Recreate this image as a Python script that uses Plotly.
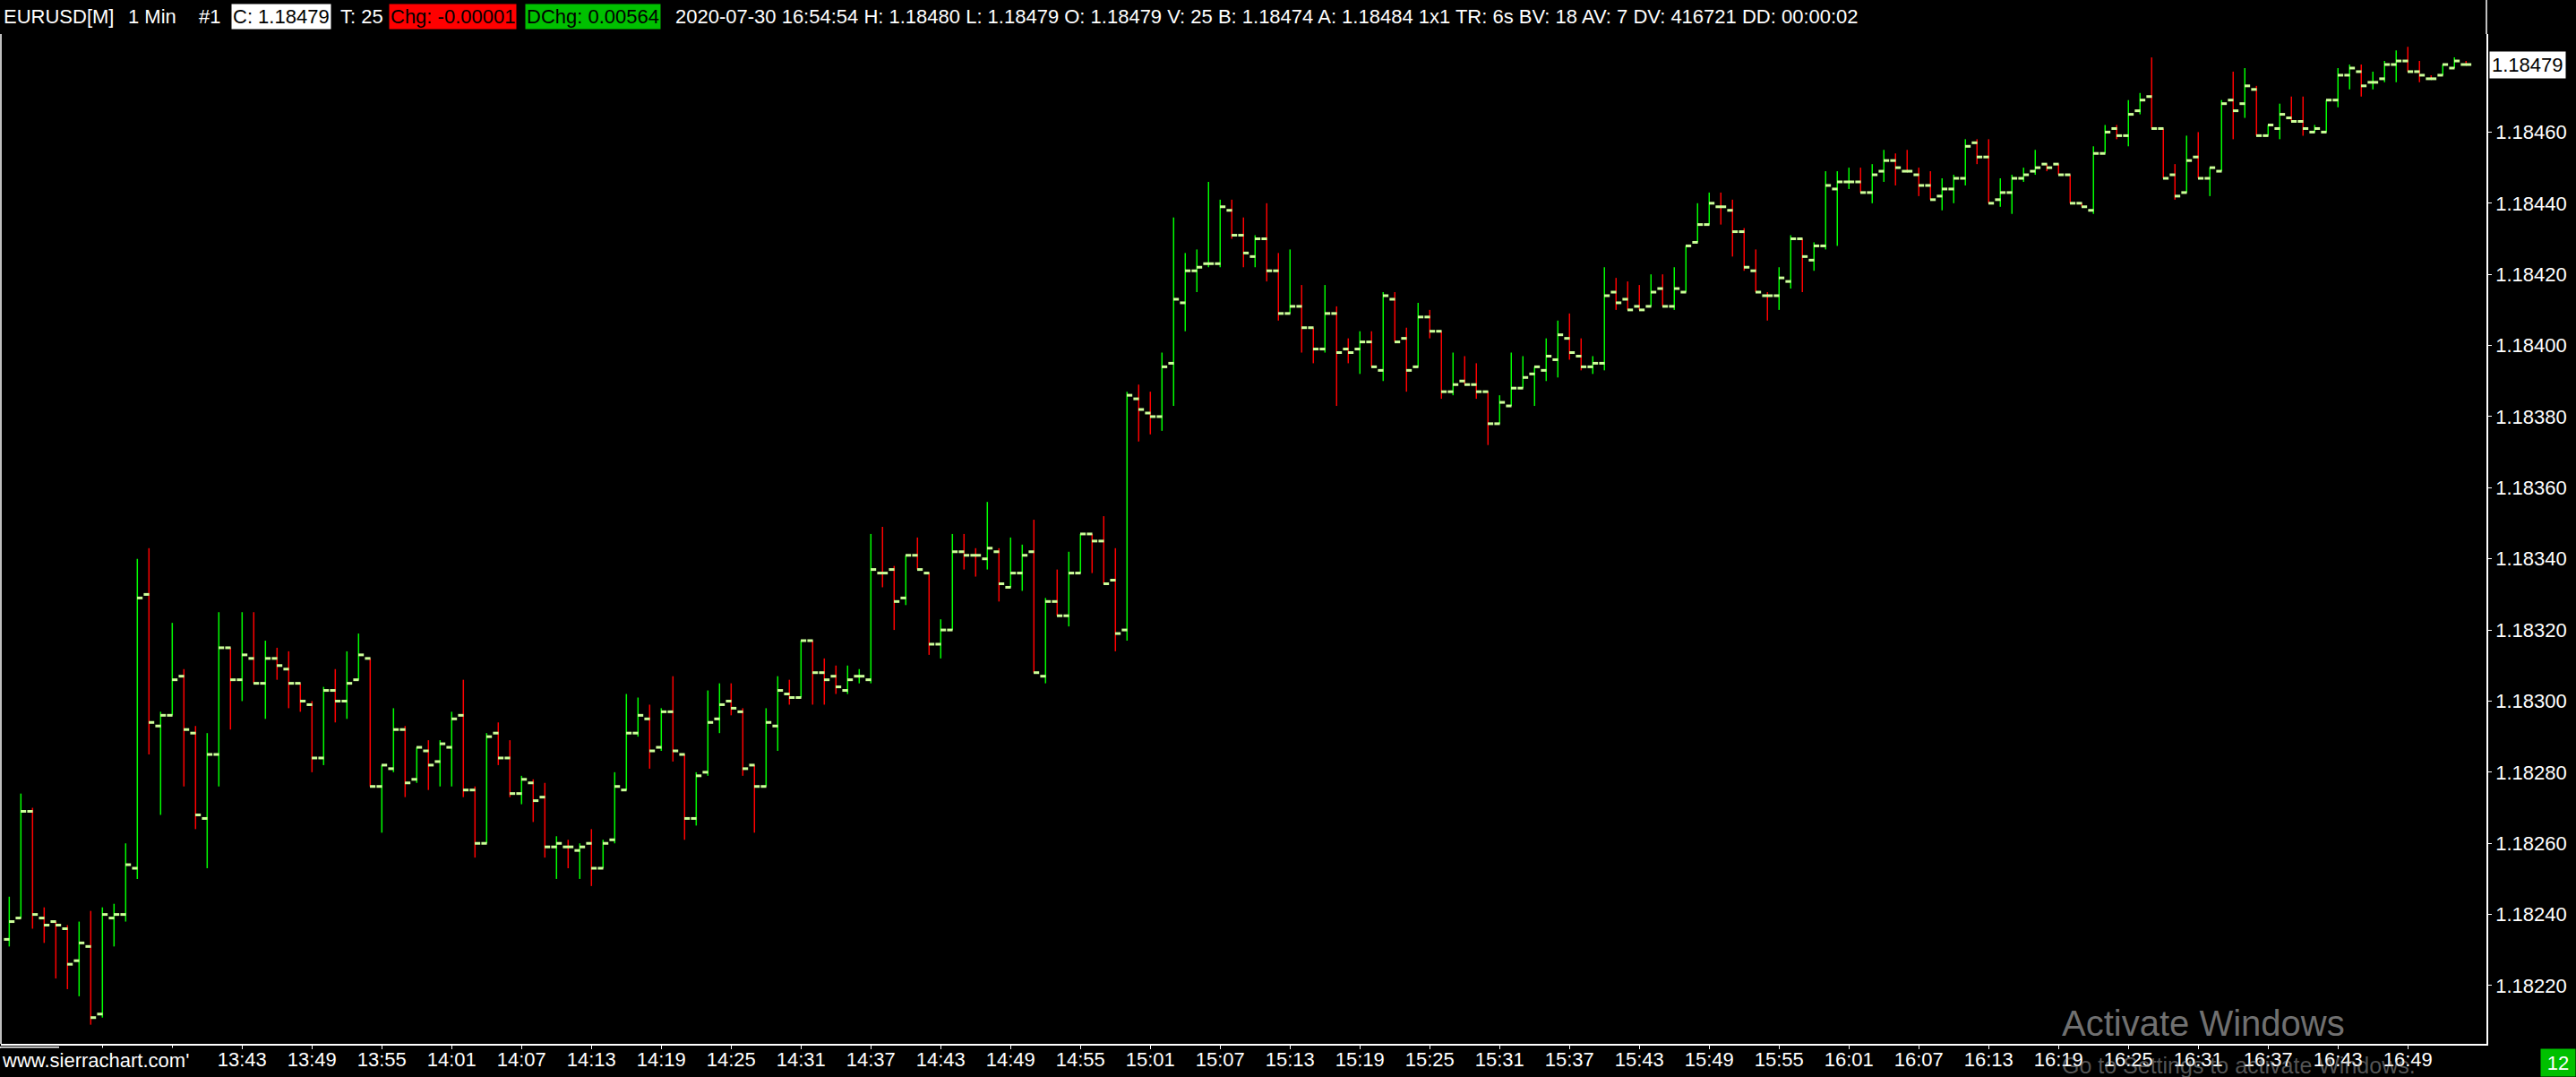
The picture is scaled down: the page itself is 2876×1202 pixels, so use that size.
import pandas as pd
import plotly.graph_objects as go

# ---------------- data (EURUSD 1-minute bars, 2020-07-30) ----------------
SESSION_DATE = "2020-07-30"
FIRST_BAR = "13:23"

opens = [
    1.18233, 1.18239, 1.18269, 1.18239, 1.18238, 1.18236, 1.18227, 1.18231, 1.18212, 1.18239,
    1.18240, 1.18253, 1.18330, 1.18293, 1.18296, 1.18307, 1.18291, 1.18267, 1.18285, 1.18315,
    1.18306, 1.18312, 1.18305, 1.18312, 1.18309, 1.18305, 1.18299, 1.18284, 1.18303, 1.18300,
    1.18306, 1.18312, 1.18276, 1.18281, 1.18292, 1.18278, 1.18286, 1.18283, 1.18287, 1.18296,
    1.18275, 1.18260, 1.18291, 1.18284, 1.18274, 1.18277, 1.18273, 1.18259, 1.18259, 1.18258,
    1.18260, 1.18253, 1.18261, 1.18275, 1.18291, 1.18295, 1.18287, 1.18297, 1.18285, 1.18267,
    1.18280, 1.18295, 1.18300, 1.18297, 1.18282, 1.18276, 1.18293, 1.18302, 1.18301, 1.18317,
    1.18308, 1.18307, 1.18303, 1.18307, 1.18306, 1.18336, 1.18337, 1.18329, 1.18341, 1.18336,
    1.18316, 1.18320, 1.18342, 1.18341, 1.18340, 1.18342, 1.18332, 1.18336, 1.18342, 1.18307,
    1.18328, 1.18324, 1.18336, 1.18347, 1.18345, 1.18334, 1.18320, 1.18385, 1.18381, 1.18380,
    1.18395, 1.18412, 1.18421, 1.18423, 1.18423, 1.18438, 1.18431, 1.18425, 1.18430, 1.18421,
    1.18409, 1.18411, 1.18405, 1.18399, 1.18409, 1.18399, 1.18399, 1.18401, 1.18393, 1.18413,
    1.18402, 1.18394, 1.18408, 1.18404, 1.18387, 1.18390, 1.18389, 1.18387, 1.18378, 1.18383,
    1.18388, 1.18392, 1.18393, 1.18396, 1.18402, 1.18397, 1.18394, 1.18395, 1.18415, 1.18413,
    1.18411, 1.18411, 1.18416, 1.18411, 1.18415, 1.18429, 1.18434, 1.18439, 1.18438, 1.18432,
    1.18421, 1.18414, 1.18414, 1.18418, 1.18430, 1.18424, 1.18428, 1.18444, 1.18446, 1.18446,
    1.18443, 1.18449, 1.18452, 1.18449, 1.18448, 1.18445, 1.18442, 1.18444, 1.18447, 1.18457,
    1.18453, 1.18441, 1.18443, 1.18447, 1.18449, 1.18451, 1.18451, 1.18448, 1.18440, 1.18438,
    1.18454, 1.18461, 1.18459, 1.18466, 1.18470, 1.18461, 1.18448, 1.18443, 1.18453, 1.18447,
    1.18449, 1.18469, 1.18468, 1.18472, 1.18459, 1.18461, 1.18464, 1.18463, 1.18460, 1.18460,
    1.18469, 1.18476, 1.18477, 1.18474, 1.18475, 1.18479, 1.18480, 1.18477, 1.18475, 1.18476,
    1.18478, 1.18479,
]
highs = [
    1.18245, 1.18274, 1.18270, 1.18242, 1.18238, 1.18237, 1.18238, 1.18241, 1.18242, 1.18243,
    1.18260, 1.18340, 1.18343, 1.18297, 1.18322, 1.18309, 1.18293, 1.18291, 1.18325, 1.18315,
    1.18325, 1.18325, 1.18317, 1.18315, 1.18314, 1.18305, 1.18300, 1.18304, 1.18309, 1.18314,
    1.18319, 1.18312, 1.18282, 1.18298, 1.18293, 1.18287, 1.18289, 1.18289, 1.18297, 1.18306,
    1.18276, 1.18291, 1.18294, 1.18289, 1.18279, 1.18278, 1.18277, 1.18262, 1.18261, 1.18260,
    1.18264, 1.18261, 1.18280, 1.18302, 1.18301, 1.18299, 1.18298, 1.18307, 1.18285, 1.18280,
    1.18303, 1.18305, 1.18305, 1.18298, 1.18282, 1.18298, 1.18307, 1.18306, 1.18317, 1.18317,
    1.18312, 1.18310, 1.18310, 1.18309, 1.18347, 1.18349, 1.18338, 1.18341, 1.18346, 1.18336,
    1.18323, 1.18347, 1.18347, 1.18343, 1.18356, 1.18343, 1.18346, 1.18344, 1.18351, 1.18329,
    1.18337, 1.18342, 1.18347, 1.18347, 1.18352, 1.18343, 1.18387, 1.18389, 1.18387, 1.18398,
    1.18436, 1.18426, 1.18427, 1.18446, 1.18441, 1.18441, 1.18436, 1.18431, 1.18440, 1.18426,
    1.18427, 1.18417, 1.18405, 1.18417, 1.18411, 1.18402, 1.18404, 1.18404, 1.18415, 1.18415,
    1.18405, 1.18412, 1.18410, 1.18404, 1.18398, 1.18397, 1.18395, 1.18387, 1.18386, 1.18398,
    1.18397, 1.18394, 1.18402, 1.18407, 1.18409, 1.18402, 1.18397, 1.18422, 1.18419, 1.18418,
    1.18417, 1.18420, 1.18420, 1.18422, 1.18428, 1.18440, 1.18443, 1.18443, 1.18441, 1.18433,
    1.18427, 1.18415, 1.18422, 1.18431, 1.18430, 1.18429, 1.18449, 1.18449, 1.18450, 1.18450,
    1.18451, 1.18455, 1.18454, 1.18455, 1.18450, 1.18449, 1.18447, 1.18448, 1.18458, 1.18458,
    1.18458, 1.18447, 1.18448, 1.18450, 1.18455, 1.18451, 1.18451, 1.18448, 1.18440, 1.18456,
    1.18462, 1.18462, 1.18469, 1.18471, 1.18481, 1.18461, 1.18451, 1.18459, 1.18460, 1.18450,
    1.18469, 1.18477, 1.18478, 1.18473, 1.18462, 1.18468, 1.18470, 1.18470, 1.18462, 1.18469,
    1.18478, 1.18479, 1.18479, 1.18477, 1.18480, 1.18483, 1.18484, 1.18480, 1.18476, 1.18479,
    1.18481, 1.18480,
]
lows = [
    1.18231, 1.18239, 1.18236, 1.18232, 1.18222, 1.18219, 1.18217, 1.18209, 1.18211, 1.18231,
    1.18238, 1.18250, 1.18285, 1.18268, 1.18296, 1.18276, 1.18264, 1.18253, 1.18276, 1.18292,
    1.18300, 1.18305, 1.18295, 1.18306, 1.18298, 1.18297, 1.18280, 1.18282, 1.18294, 1.18295,
    1.18306, 1.18276, 1.18263, 1.18280, 1.18273, 1.18277, 1.18275, 1.18276, 1.18276, 1.18273,
    1.18256, 1.18260, 1.18282, 1.18273, 1.18271, 1.18266, 1.18256, 1.18250, 1.18253, 1.18250,
    1.18248, 1.18253, 1.18260, 1.18275, 1.18290, 1.18281, 1.18286, 1.18283, 1.18261, 1.18265,
    1.18279, 1.18291, 1.18296, 1.18279, 1.18263, 1.18276, 1.18286, 1.18299, 1.18301, 1.18299,
    1.18299, 1.18302, 1.18302, 1.18305, 1.18305, 1.18332, 1.18320, 1.18327, 1.18337, 1.18313,
    1.18312, 1.18320, 1.18337, 1.18335, 1.18337, 1.18328, 1.18332, 1.18331, 1.18308, 1.18305,
    1.18324, 1.18321, 1.18336, 1.18336, 1.18333, 1.18314, 1.18317, 1.18373, 1.18375, 1.18376,
    1.18383, 1.18404, 1.18415, 1.18422, 1.18422, 1.18430, 1.18422, 1.18422, 1.18418, 1.18407,
    1.18409, 1.18398, 1.18395, 1.18398, 1.18383, 1.18395, 1.18392, 1.18394, 1.18390, 1.18401,
    1.18387, 1.18394, 1.18402, 1.18385, 1.18386, 1.18389, 1.18385, 1.18372, 1.18378, 1.18383,
    1.18388, 1.18383, 1.18390, 1.18391, 1.18396, 1.18393, 1.18392, 1.18393, 1.18410, 1.18410,
    1.18410, 1.18411, 1.18411, 1.18410, 1.18415, 1.18429, 1.18434, 1.18434, 1.18425, 1.18421,
    1.18415, 1.18407, 1.18410, 1.18416, 1.18415, 1.18421, 1.18427, 1.18428, 1.18444, 1.18443,
    1.18440, 1.18446, 1.18445, 1.18449, 1.18442, 1.18441, 1.18438, 1.18440, 1.18445, 1.18451,
    1.18440, 1.18439, 1.18437, 1.18446, 1.18448, 1.18449, 1.18448, 1.18440, 1.18439, 1.18437,
    1.18454, 1.18458, 1.18456, 1.18465, 1.18461, 1.18447, 1.18441, 1.18443, 1.18447, 1.18442,
    1.18449, 1.18458, 1.18464, 1.18459, 1.18459, 1.18458, 1.18463, 1.18459, 1.18460, 1.18460,
    1.18467, 1.18472, 1.18470, 1.18472, 1.18474, 1.18474, 1.18477, 1.18474, 1.18475, 1.18476,
    1.18478, 1.18479,
]
closes = [
    1.18238, 1.18269, 1.18240, 1.18237, 1.18237, 1.18226, 1.18232, 1.18211, 1.18240, 1.18240,
    1.18254, 1.18329, 1.18294, 1.18296, 1.18306, 1.18292, 1.18268, 1.18285, 1.18315, 1.18306,
    1.18313, 1.18305, 1.18312, 1.18310, 1.18305, 1.18300, 1.18284, 1.18303, 1.18300, 1.18305,
    1.18313, 1.18276, 1.18282, 1.18292, 1.18277, 1.18287, 1.18282, 1.18288, 1.18295, 1.18275,
    1.18260, 1.18290, 1.18284, 1.18274, 1.18278, 1.18272, 1.18259, 1.18260, 1.18259, 1.18259,
    1.18253, 1.18260, 1.18276, 1.18291, 1.18296, 1.18286, 1.18297, 1.18286, 1.18267, 1.18279,
    1.18294, 1.18299, 1.18298, 1.18281, 1.18276, 1.18294, 1.18303, 1.18301, 1.18317, 1.18308,
    1.18306, 1.18304, 1.18306, 1.18307, 1.18337, 1.18336, 1.18328, 1.18341, 1.18337, 1.18316,
    1.18320, 1.18342, 1.18341, 1.18341, 1.18343, 1.18333, 1.18336, 1.18341, 1.18308, 1.18328,
    1.18324, 1.18336, 1.18347, 1.18345, 1.18333, 1.18319, 1.18386, 1.18382, 1.18380, 1.18394,
    1.18413, 1.18421, 1.18422, 1.18423, 1.18439, 1.18431, 1.18426, 1.18430, 1.18421, 1.18409,
    1.18411, 1.18405, 1.18399, 1.18409, 1.18398, 1.18398, 1.18401, 1.18394, 1.18414, 1.18401,
    1.18393, 1.18408, 1.18404, 1.18387, 1.18389, 1.18389, 1.18387, 1.18378, 1.18384, 1.18388,
    1.18391, 1.18394, 1.18397, 1.18403, 1.18398, 1.18394, 1.18395, 1.18414, 1.18412, 1.18410,
    1.18410, 1.18415, 1.18411, 1.18416, 1.18428, 1.18434, 1.18440, 1.18439, 1.18432, 1.18422,
    1.18415, 1.18414, 1.18419, 1.18430, 1.18425, 1.18428, 1.18445, 1.18446, 1.18446, 1.18443,
    1.18448, 1.18452, 1.18450, 1.18449, 1.18445, 1.18441, 1.18444, 1.18447, 1.18456, 1.18453,
    1.18440, 1.18443, 1.18447, 1.18448, 1.18450, 1.18450, 1.18448, 1.18440, 1.18439, 1.18454,
    1.18460, 1.18459, 1.18465, 1.18469, 1.18461, 1.18447, 1.18442, 1.18452, 1.18447, 1.18450,
    1.18468, 1.18466, 1.18473, 1.18459, 1.18462, 1.18465, 1.18463, 1.18461, 1.18461, 1.18469,
    1.18476, 1.18478, 1.18473, 1.18474, 1.18479, 1.18480, 1.18477, 1.18476, 1.18475, 1.18479,
    1.18480, 1.18479,
]

x_tick_times = ["13:31", "13:37", "13:43", "13:49", "13:55", "14:01", "14:07", "14:13", "14:19",
                "14:25", "14:31", "14:37", "14:43", "14:49", "14:55", "15:01", "15:07", "15:13",
                "15:19", "15:25", "15:31", "15:37", "15:43", "15:49", "15:55", "16:01", "16:07",
                "16:13", "16:19", "16:25", "16:31", "16:37", "16:43", "16:49"]
x_tick_labels = ["", ""] + x_tick_times[2:]
y_tick_values = [1.18220, 1.18240, 1.18260, 1.18280, 1.18300, 1.18320, 1.18340,
                 1.18360, 1.18380, 1.18400, 1.18420, 1.18440, 1.18460]
last_price = closes[-1]

header_pieces = [
    # text, left pixel, text colour, background
    ("EURUSD[M]", 2, "white", None),
    ("1 Min", 141, "white", None),
    ("#1", 220, "white", None),
    ("C: 1.18479", 258, "black", "white"),
    ("T: 25", 378, "white", None),
    ("Chg: -0.00001", 434, "black", "#ff0000"),
    ("DChg: 0.00564", 586, "black", "#00c000"),
    ("2020-07-30 16:54:54 H: 1.18480 L: 1.18479 O: 1.18479 V: 25 B: 1.18474 A: 1.18484 "
     "1x1 TR: 6s BV: 18 AV: 7 DV: 416721 DD: 00:00:02", 752, "white", None),
]

# ---------------- layout geometry ----------------
W, H = 2876, 1202
ML, MR, MT, MB = 1, 100, 38, 37
PW, PH = W - ML - MR, H - MT - MB
FONT = "Liberation Sans"


def px_x(px):
    return (px - ML) / PW


def px_y(py):
    return (H - MB - py) / PH


times = pd.date_range(f"{SESSION_DATE} {FIRST_BAR}", periods=len(opens), freq="1min")
tick_offset = pd.Timedelta(seconds=13)
tickvals = pd.to_datetime([f"{SESSION_DATE} {t}" for t in x_tick_times])

fig = go.Figure()
fig.add_trace(go.Ohlc(
    x=times, open=opens, high=highs, low=lows, close=closes,
    increasing=dict(line=dict(color="#00ff00", width=1.5)),
    decreasing=dict(line=dict(color="#ff0000", width=1.5)),
    tickwidth=0, showlegend=False, hoverinfo="skip",
))
tick_marker = dict(symbol="line-ew", size=4.4, line=dict(color="#ccff99", width=3))
fig.add_trace(go.Scatter(x=times - tick_offset, y=opens, mode="markers",
                         marker=tick_marker, showlegend=False, hoverinfo="skip"))
fig.add_trace(go.Scatter(x=times + tick_offset, y=closes, mode="markers",
                         marker=tick_marker, showlegend=False, hoverinfo="skip"))

annotations = []
for text, left, fg, bg in header_pieces:
    a = dict(text=text, xref="paper", yref="paper", x=px_x(left), y=px_y(19),
             xanchor="left", yanchor="middle", showarrow=False,
             font=dict(family=FONT, size=22, color=fg), borderpad=1)
    if bg:
        a.update(bgcolor=bg)
    annotations.append(a)

# last price marker on the price scale
annotations.append(dict(text=f"{last_price:.5f}", xref="paper", yref="y", x=1, y=last_price,
                        xanchor="left", yanchor="middle", xshift=3, showarrow=False,
                        bgcolor="white", font=dict(family=FONT, size=22, color="black"),
                        borderpad=2))
# site label bottom-left
annotations.append(dict(text="www.sierrachart.com'", xref="paper", yref="paper",
                        x=px_x(0), y=px_y(1183), xanchor="left", yanchor="middle",
                        showarrow=False, bgcolor="black",
                        font=dict(family=FONT, size=22, color="white")))
# green counter box bottom-right
annotations.append(dict(text="12", xref="paper", yref="paper", x=px_x(2876), y=px_y(1202),
                        xanchor="right", yanchor="bottom", showarrow=False,
                        bgcolor="#00c000", width=36, height=28,
                        font=dict(family=FONT, size=22, color="white")))
# Windows activation watermark
annotations.append(dict(text="Activate Windows", xref="paper", yref="paper",
                        x=px_x(2300), y=px_y(1142), xanchor="left", yanchor="middle",
                        showarrow=False,
                        font=dict(family=FONT, size=40, color="rgba(190,190,190,0.6)")))
annotations.append(dict(text="Go to Settings to activate Windows.", xref="paper", yref="paper",
                        x=px_x(2300), y=px_y(1189), xanchor="left", yanchor="middle",
                        showarrow=False,
                        font=dict(family=FONT, size=25, color="rgba(190,190,190,0.45)")))

shapes = [
    dict(type="line", xref="paper", yref="paper", x0=0, x1=0, y0=0, y1=1,
         line=dict(color="white", width=1.5)),
    dict(type="line", xref="paper", yref="paper", x0=1, x1=1, y0=1, y1=px_y(0),
         line=dict(color="white", width=1.5)),
    dict(type="line", xref="paper", yref="paper", x0=px_x(0), x1=px_x(66),
         y0=px_y(1169), y1=px_y(1169), line=dict(color="white", width=2)),
]

fig.update_layout(
    width=W, height=H,
    margin=dict(l=ML, r=MR, t=MT, b=MB),
    paper_bgcolor="black", plot_bgcolor="black",
    font=dict(family=FONT, size=22, color="white"),
    showlegend=False,
    annotations=annotations,
    shapes=shapes,
    xaxis=dict(
        type="date",
        range=[times[0] - pd.Timedelta(seconds=43), times[-1] + pd.Timedelta(seconds=105)],
        rangeslider=dict(visible=False),
        tickmode="array", tickvals=tickvals, ticktext=x_tick_labels,
        ticks="outside", ticklen=4, tickcolor="white",
        ticklabelstandoff=-7,
        showline=True, linecolor="white", linewidth=1.5,
        showgrid=False, zeroline=False,
        tickfont=dict(family=FONT, size=22, color="white"),
    ),
    yaxis=dict(
        side="right",
        range=[1.1820362, 1.1848757],
        tickmode="array", tickvals=y_tick_values,
        ticktext=[f"{v:.5f}" for v in y_tick_values],
        ticks="outside", ticklen=4, tickcolor="white",
        showline=True, linecolor="white", linewidth=1.5,
        showgrid=False, zeroline=False,
        tickfont=dict(family=FONT, size=22, color="white"),
    ),
)

# remove the browser's default page margin so the figure fills the window exactly
fig.write_html("out.html", config={"displayModeBar": False},
               post_script="document.body.style.margin='0';")
